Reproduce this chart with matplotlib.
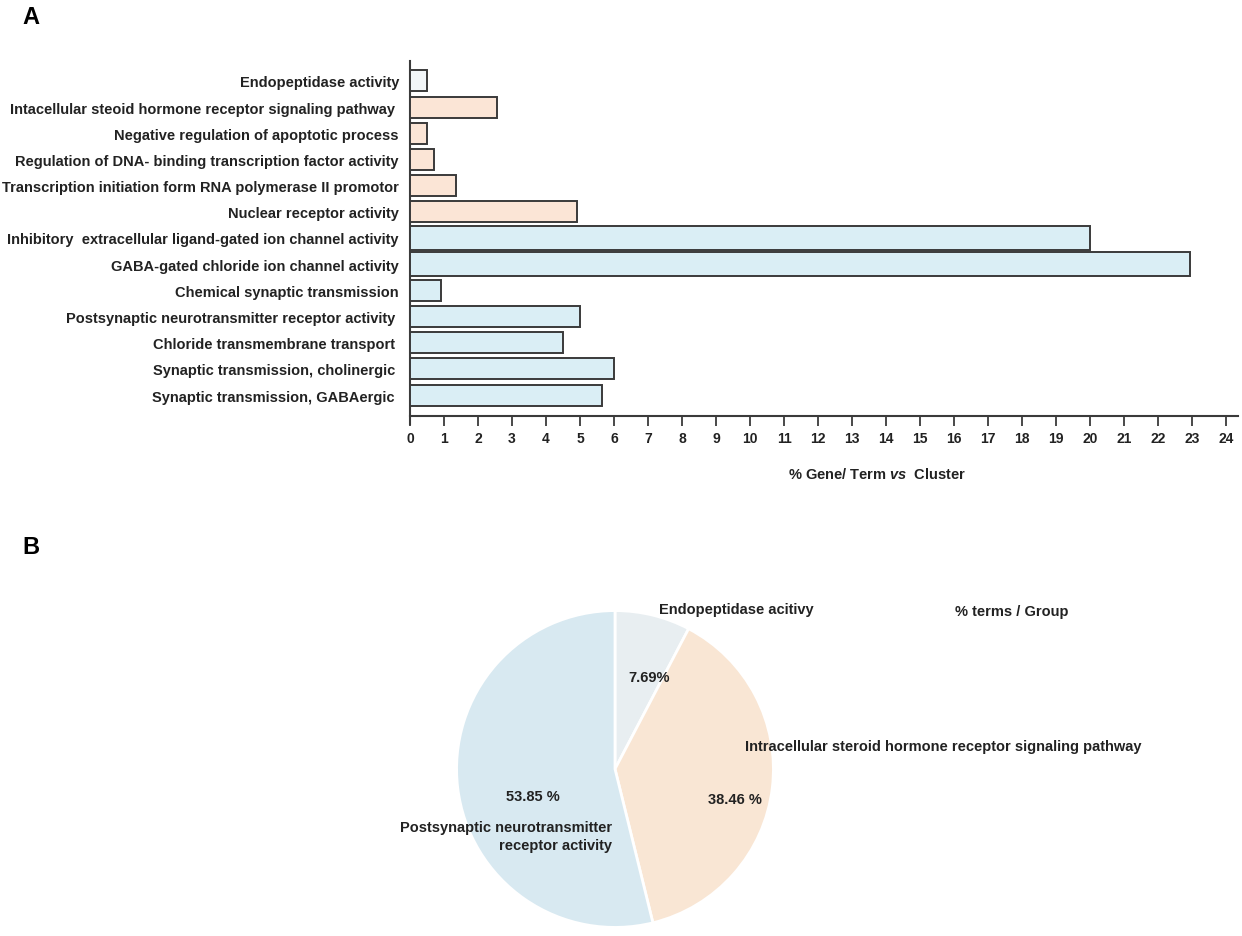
import numpy as np
import matplotlib
matplotlib.use('Agg')
import matplotlib.pyplot as plt

plt.rcParams['font.family'] = ['Liberation Sans', 'DejaVu Sans']
plt.rcParams['font.weight'] = 'bold'
plt.rcParams['mathtext.fontset'] = 'custom'
plt.rcParams['mathtext.it'] = 'Liberation Sans:italic:bold'
plt.rcParams['mathtext.rm'] = 'Liberation Sans:bold'

# ---------------- datos panel A ----------------
terminos = ['Endopeptidase activity',
            'Intacellular steoid hormone receptor signaling pathway ',
            'Negative regulation of apoptotic process',
            'Regulation of DNA- binding transcription factor activity',
            'Transcription initiation form RNA polymerase II promotor',
            'Nuclear receptor activity',
            'Inhibitory  extracellular ligand-gated ion channel activity',
            'GABA-gated chloride ion channel activity',
            'Chemical synaptic transmission',
            'Postsynaptic neurotransmitter receptor activity ',
            'Chloride transmembrane transport ',
            'Synaptic transmission, cholinergic ',
            'Synaptic transmission, GABAergic ']
porcentaje = [0.5, 2.55, 0.5, 0.7, 1.35, 4.9, 20.0, 22.95, 0.9, 5.0, 4.5, 6.0, 5.65]
grupo = [0, 1, 1, 1, 1, 1, 2, 2, 2, 2, 2, 2, 2]

# ---------------- datos panel B ----------------
grupos_pie = ['Endopeptidase acitivy',
              'Intracellular steroid hormone receptor signaling pathway',
              'Postsynaptic neurotransmitter\nreceptor activity']
terminos_grupo = [1, 5, 7]

col_bar = ['#f2f6f8', '#fbe5d6', '#daeef5']
col_pie = ['#e8eef1', '#f9e6d4', '#d8e9f1']
edge = '#3a3a3a'
txt = '#222222'

W, H = 1242, 937
fig = plt.figure(figsize=(W / 100, H / 100), dpi=100)

def px(x, y):
    return x / W, 1 - y / H

# ---------------- Panel A: barras ----------------
ax = fig.add_axes([410 / W, 1 - 417 / H, (1238 - 410) / W, (417 - 62) / H])
n = len(terminos)
ypos = np.arange(n)
hs = [0.8 if p < 10 else 0.9 for p in porcentaje]
ax.barh(ypos, porcentaje, height=hs, color=[col_bar[g] for g in grupo],
        edgecolor=edge, linewidth=1.4, zorder=3)
ax.set_ylim(n - 1 + 0.8, -0.76)
ax.set_xlim(0, 24.35)
ax.set_yticks(ypos)
ax.set_yticklabels(terminos, fontsize=10.5, fontweight='bold', color=txt)
ax.set_xticks(np.arange(0, 25, 1))
ax.tick_params(axis='y', length=0, pad=8)
ax.tick_params(axis='x', length=7, width=1.3, color=edge, pad=4,
               labelsize=10, labelcolor=txt)
for s in ['top', 'right']:
    ax.spines[s].set_visible(False)
for s in ['left', 'bottom']:
    ax.spines[s].set_linewidth(1.5)
    ax.spines[s].set_color(edge)
ax.spines['left'].set_bounds(n - 1 + 1.1, -0.76)
ax.set_xlabel(r'% Gene/ Term $\it{vs}$  Cluster', fontsize=10.5,
              fontweight='bold', color=txt)
ax.xaxis.set_label_coords((877 - 410) / 828, -(475 - 417) / 355)
ax.xaxis.label.set_va('center')

fig.text(*px(22, 18), 'A', fontsize=17, fontweight='bold', ha='left', va='center')
fig.text(*px(22, 548), 'B', fontsize=17, fontweight='bold', ha='left', va='center')

# ---------------- Panel B: pastel ----------------
axp = fig.add_axes([455 / W, 1 - 930 / H, 320 / W, 320 / H])
wedges, _, autotexts = axp.pie(
    terminos_grupo, colors=col_pie, startangle=90, counterclock=False, radius=1,
    autopct=lambda p: '%.2f%%' % p if p < 10 else '%.2f %%' % p,
    wedgeprops=dict(edgecolor='white', linewidth=2),
    textprops=dict(fontsize=10.5, fontweight='bold', color=txt))
axp.set_xlim(-1.01, 1.01)
axp.set_ylim(-1.01, 1.01)
axp.set_aspect('equal')

# posiciones de los porcentajes (pixeles de la figura)
pos_pct = [(649, 678), (735, 800), (533, 797)]
for t, (x, y) in zip(autotexts, pos_pct):
    t.set_transform(fig.transFigure)
    t.set_position(px(x, y))
    t.set_ha('center')
    t.set_va('center')

fig.text(*px(659, 610), grupos_pie[0], fontsize=10.5, fontweight='bold',
         color=txt, ha='left', va='center')
fig.text(*px(745, 747), grupos_pie[1], fontsize=10.5, fontweight='bold',
         color=txt, ha='left', va='center')
fig.text(*px(612, 837), grupos_pie[2], fontsize=10.5, fontweight='bold',
         color=txt, ha='right', va='center', multialignment='right',
         linespacing=1.35)
fig.text(*px(1012, 612), '% terms / Group', fontsize=10.5, fontweight='bold',
         color=txt, ha='center', va='center')

fig.savefig('out.png', dpi=100, facecolor='white')
